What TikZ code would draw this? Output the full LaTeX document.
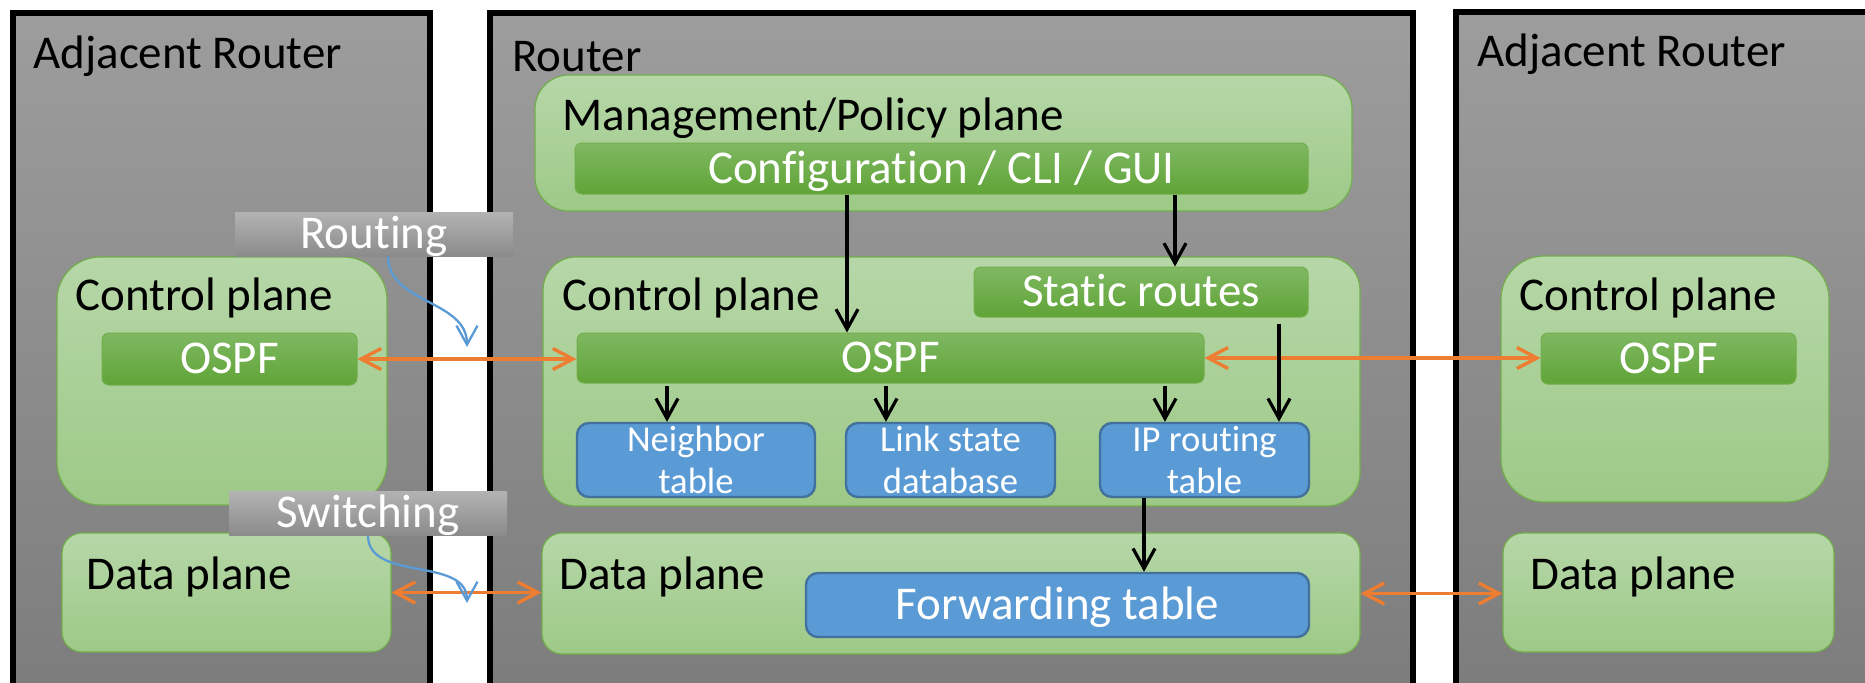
\documentclass[tikz,border=0pt]{standalone}
\usepackage{fontspec}
\setmainfont{Carlito}[Ligatures=NoCommon]
\usetikzlibrary{arrows.meta}
\definecolor{routertop}{HTML}{9D9D9D}
\definecolor{routerbot}{HTML}{7B7B7B}
\definecolor{planetop}{HTML}{B6D7A8}
\definecolor{planebot}{HTML}{9DC987}
\definecolor{planeedge}{HTML}{72AE4B}
\definecolor{proctop}{HTML}{7FB862}
\definecolor{procbot}{HTML}{60A437}
\definecolor{tableblue}{HTML}{5B9BD5}
\definecolor{tableedge}{HTML}{41719C}
\definecolor{tagtop}{HTML}{B3B3B3}
\definecolor{tagbot}{HTML}{8B8B8B}
\definecolor{linkorange}{HTML}{ED7D31}
\newcommand\rtfont{\fontsize{23.5}{28}\selectfont}
\newcommand\tblfont{\fontsize{18.3}{21}\selectfont}

\begin{document}
\begin{tikzpicture}[x=0.5pt,y=-0.5pt,
    router/.style={draw=black,line width=3pt,top color=routertop,bottom color=routerbot,inner sep=0pt},
    plane/.style={draw=planeedge,line width=0.6pt,top color=planetop,bottom color=planebot,rounded corners=#1,inner sep=0pt},
    plane/.default=10pt,
    proc/.style={draw=planeedge,line width=0.5pt,top color=proctop,bottom color=procbot,rounded corners=3.5pt,
      text=white,font=\rtfont,text height=14.8pt,text depth=0pt,inner sep=0pt},
    tbl/.style={draw=tableedge,line width=1.2pt,fill=tableblue,rounded corners=6pt,text=white,font=\tblfont,align=center,inner sep=0pt},
    tag/.style={top color=tagtop,bottom color=tagbot,text=white,font=\rtfont,text height=14.8pt,text depth=0pt,inner sep=0pt},
    title/.style={anchor=base west,font=\rtfont,inner sep=0pt},
    flow/.style={-{Straight Barb[length=10pt,width=11pt]},line width=1.6pt},
    peer/.style={{Straight Barb[length=10pt,width=10.5pt]}-{Straight Barb[length=10pt,width=10.5pt]},line width=1.7pt,draw=linkorange},
    hop/.style={-{Straight Barb[length=9.5pt,width=10.5pt]},line width=1.15pt,draw=tableblue}]
      \useasboundingbox (0,0) rectangle (1865,682);
      \clip (0,0) rectangle (1865,682);
      % Draw the three routers
      \node[router, minimum width=208.5pt, minimum height=353.5pt] (adjL) at (221.5,366.5) {};
      \node[router, minimum width=461.5pt, minimum height=353.5pt] (rtr) at (951.5,366.5) {};
      \node[router, minimum width=222pt, minimum height=354pt] (adjR) at (1678,366) {};
      \node[title] (adjLtitle) at (33,68) {Adjacent Router};
      \node[title] (rtrtitle) at (512,71) {Router};
      \node[title] (adjRtitle) at (1477,66) {Adjacent Router};
      % Draw left adjacent router
      \node[plane=21.5pt, minimum width=165pt, minimum height=124pt] (cpL) at (222,381) {};
      \node[title] (cpLtitle) at (75,310) {Control plane};
      \node[proc, minimum width=127.5pt, minimum height=26pt] (ospfL) at (229.5,359) {OSPF};
      \node[plane=10pt, minimum width=164.5pt, minimum height=59.5pt] (dpL) at (226.5,592.5) {};
      \node[title] (dpLtitle) at (86,589) {Data plane};
      % Draw router
      \node[plane=17pt, minimum width=408.5pt, minimum height=68pt] (mgmt) at (943.5,143) {};
      \node[title] (mgmttitle) at (562,130) {Management/Policy plane};
      \node[proc, minimum width=366.5pt, minimum height=25.5pt] (config) at (941.5,168.5) {Configuration / CLI / GUI};
      \node[plane=16.5pt, minimum width=408.5pt, minimum height=124.5pt] (cpM) at (951.5,381.5) {};
      \node[title] (cpMtitle) at (562,310) {Control plane};
      \node[proc, minimum width=167pt, minimum height=25pt] (static) at (1141,292) {Static routes};
      \node[proc, minimum width=313.5pt, minimum height=25pt] (ospfM) at (890.5,358) {OSPF};
      \node[tbl, minimum width=119pt, minimum height=37pt] (neigh) at (696,460) {Neighbor\\table};
      \node[tbl, minimum width=104.5pt, minimum height=37pt] (lsdb) at (950.5,460) {Link state\\database};
      \node[tbl, minimum width=104.5pt, minimum height=37pt] (iprt) at (1204.5,460) {IP routing\\table};
      \node[plane=10pt, minimum width=409pt, minimum height=60.5pt] (dpM) at (951,593.5) {};
      \node[title] (dpMtitle) at (559,589) {Data plane};
      \node[tbl, font=\rtfont, text height=14.8pt, text depth=0pt, minimum width=251.5pt, minimum height=32pt] (fwd) at (1057.5,605) {Forwarding table};
      % Draw right adjacent router
      \node[plane=21.5pt, minimum width=164pt, minimum height=123pt] (cpR) at (1665,379) {};
      \node[title] (cpRtitle) at (1519,310) {Control plane};
      \node[proc, minimum width=127.5pt, minimum height=25.5pt] (ospfR) at (1668.5,358.5) {OSPF};
      \node[plane=10pt, minimum width=165.5pt, minimum height=59.5pt] (dpR) at (1668.5,592.5) {};
      \node[title] (dpRtitle) at (1530,589) {Data plane};
      % Draw the links between routers
      \draw[peer] (ospfL.east) -- (ospfL.east -| ospfM.west);
      \draw[peer] (ospfM.east) -- (ospfM.east -| ospfR.west);
      \draw[peer] (dpL.east) -- (dpL.east -| dpM.west);
      \draw[peer] (dpM.east) -- (dpM.east -| dpR.west);
      % Draw the flows inside the router
      \coordinate (cfgOspf) at (847,0);
      \coordinate (cfgStatic) at (1175,0);
      \coordinate (toNeigh) at (667,0);
      \coordinate (toLsdb) at (886,0);
      \coordinate (toIprt) at (1165,0);
      \coordinate (staticIprt) at (1279,0);
      \coordinate (iprtFwd) at (1144,0);
      \draw[flow] (config.south -| cfgOspf) -- (ospfM.north -| cfgOspf);
      \draw[flow] (config.south -| cfgStatic) -- (static.north -| cfgStatic);
      \draw[flow, shorten <=1pt] (ospfM.south -| toNeigh) -- (neigh.north -| toNeigh);
      \draw[flow, shorten <=1pt] (ospfM.south -| toLsdb) -- (lsdb.north -| toLsdb);
      \draw[flow, shorten <=1pt] (ospfM.south -| toIprt) -- (iprt.north -| toIprt);
      \draw[flow, shorten <=3pt] (static.south -| staticIprt) -- (iprt.north -| staticIprt);
      \draw[flow] (iprt.south -| iprtFwd) -- (fwd.north -| iprtFwd);
      % Draw the routing and switching tags
      \node[tag, minimum width=139pt, minimum height=22pt] (routing) at (374,234) {Routing};
      \node[tag, minimum width=139pt, minimum height=22pt] (switching) at (368,513) {Switching};
      \coordinate (routeFrom) at (388,0);
      \coordinate (routeTo) at (467,347);
      \coordinate (switchTo) at (467,603);
      \draw[hop] (routing.south -| routeFrom) to[out=-90,in=90] (routeTo);
      \draw[hop] (switching.south) to[out=-90,in=90] (switchTo);
    \end{tikzpicture}
\end{document}
